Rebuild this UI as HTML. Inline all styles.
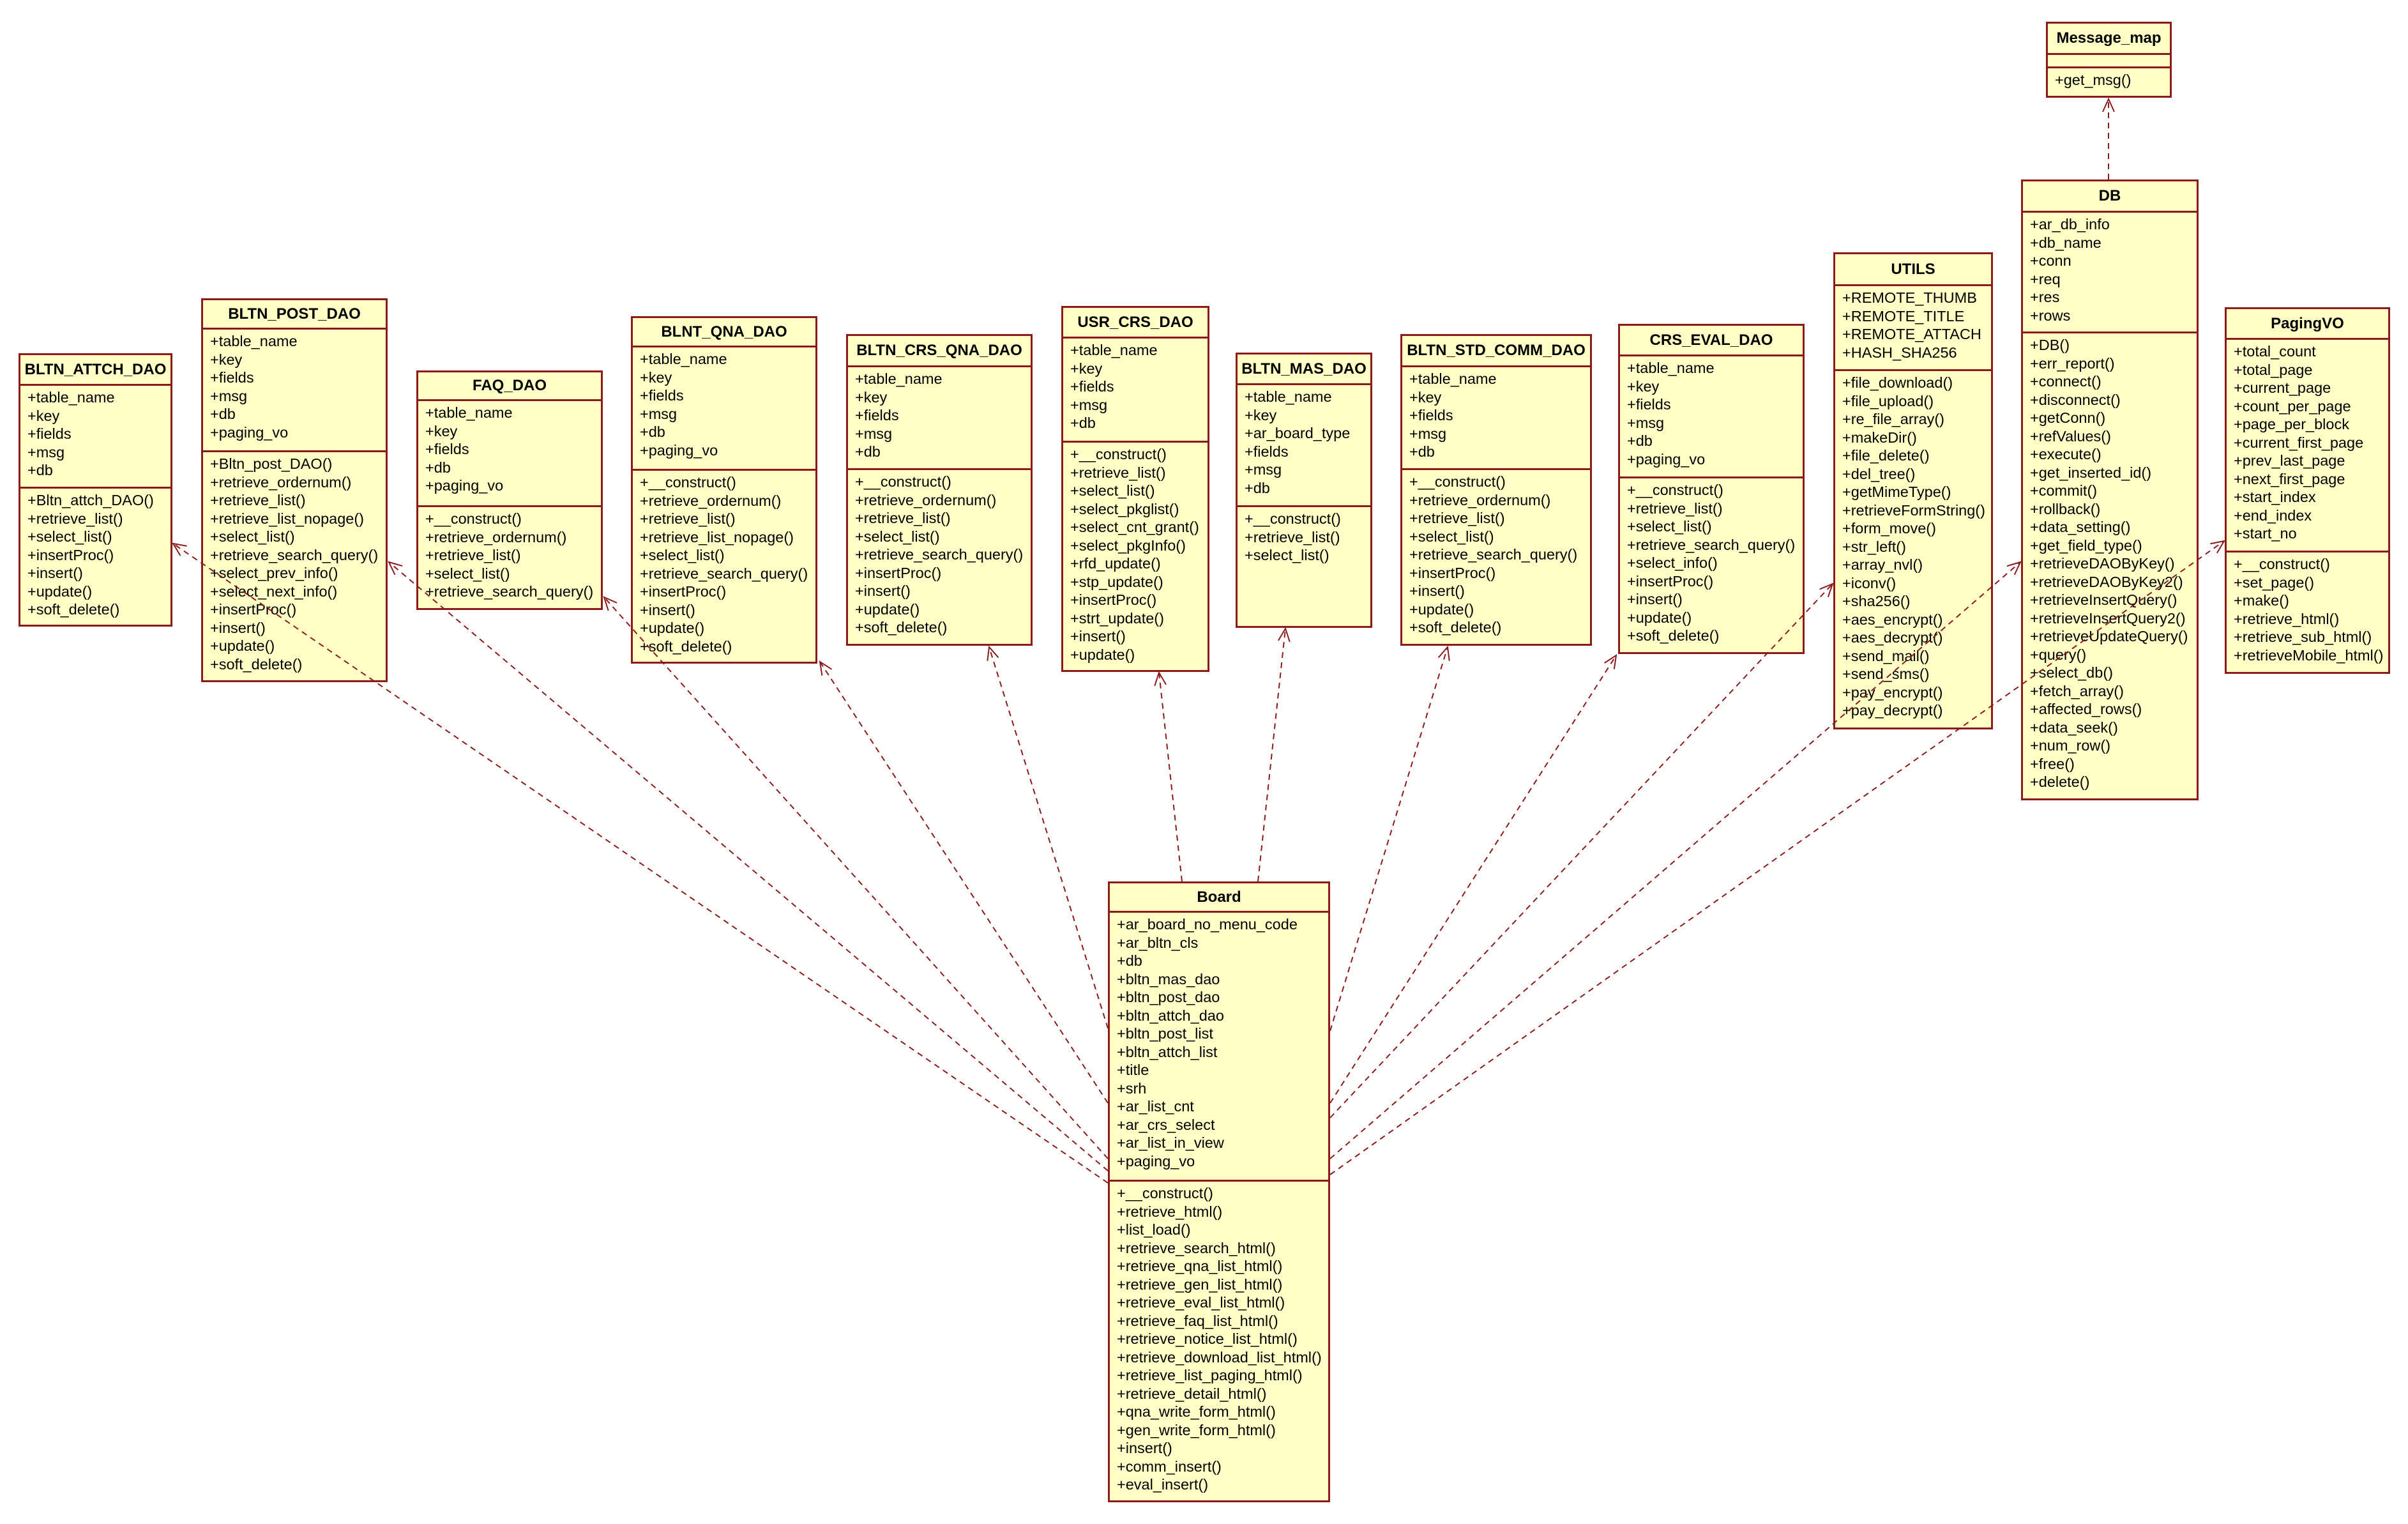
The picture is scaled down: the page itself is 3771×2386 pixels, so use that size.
<!DOCTYPE html>
<html><head><meta charset="utf-8">
<style>
html,body{margin:0;padding:0;background:#fff;}
body{width:3771px;height:2386px;position:relative;overflow:hidden;font-family:"Liberation Sans",Arial,sans-serif;}
.b{position:absolute;background:#ffffc6;border:3px solid #8b1a1a;box-sizing:border-box;color:#000;}
.h{box-sizing:border-box;border-bottom:3px solid #8b1a1a;font-weight:bold;font-size:24px;display:flex;align-items:center;justify-content:center;}
.a{box-sizing:border-box;border-bottom:3px solid #8b1a1a;}
.a,.m{padding:4px 0 0 11px;font-size:23.5px;line-height:28.5px;white-space:pre;}
svg{position:absolute;left:0;top:0;}
</style></head><body>

<div class="b" style="left:29px;top:553px;width:241px;height:428px">
<div class="h" style="height:48px">BLTN_ATTCH_DAO</div>
<div class="a" style="height:161px">+table_name
+key
+fields
+msg
+db</div>
<div class="m">+Bltn_attch_DAO()
+retrieve_list()
+select_list()
+insertProc()
+insert()
+update()
+soft_delete()</div></div>

<div class="b" style="left:315px;top:467px;width:292px;height:601px">
<div class="h" style="height:46px">BLTN_POST_DAO</div>
<div class="a" style="height:192px">+table_name
+key
+fields
+msg
+db
+paging_vo</div>
<div class="m">+Bltn_post_DAO()
+retrieve_ordernum()
+retrieve_list()
+retrieve_list_nopage()
+select_list()
+retrieve_search_query()
+select_prev_info()
+select_next_info()
+insertProc()
+insert()
+update()
+soft_delete()</div></div>

<div class="b" style="left:652px;top:580px;width:292px;height:375px">
<div class="h" style="height:45px">FAQ_DAO</div>
<div class="a" style="height:166px">+table_name
+key
+fields
+db
+paging_vo</div>
<div class="m">+__construct()
+retrieve_ordernum()
+retrieve_list()
+select_list()
+retrieve_search_query()</div></div>

<div class="b" style="left:988px;top:495px;width:292px;height:544px">
<div class="h" style="height:46px">BLNT_QNA_DAO</div>
<div class="a" style="height:193px">+table_name
+key
+fields
+msg
+db
+paging_vo</div>
<div class="m">+__construct()
+retrieve_ordernum()
+retrieve_list()
+retrieve_list_nopage()
+select_list()
+retrieve_search_query()
+insertProc()
+insert()
+update()
+soft_delete()</div></div>

<div class="b" style="left:1325px;top:523px;width:292px;height:488px">
<div class="h" style="height:49px">BLTN_CRS_QNA_DAO</div>
<div class="a" style="height:161px">+table_name
+key
+fields
+msg
+db</div>
<div class="m">+__construct()
+retrieve_ordernum()
+retrieve_list()
+select_list()
+retrieve_search_query()
+insertProc()
+insert()
+update()
+soft_delete()</div></div>

<div class="b" style="left:1662px;top:479px;width:232px;height:573px">
<div class="h" style="height:48px">USR_CRS_DAO</div>
<div class="a" style="height:163px">+table_name
+key
+fields
+msg
+db</div>
<div class="m">+__construct()
+retrieve_list()
+select_list()
+select_pkglist()
+select_cnt_grant()
+select_pkgInfo()
+rfd_update()
+stp_update()
+insertProc()
+strt_update()
+insert()
+update()</div></div>

<div class="b" style="left:1935px;top:552px;width:214px;height:431px">
<div class="h" style="height:48px">BLTN_MAS_DAO</div>
<div class="a" style="height:191px">+table_name
+key
+ar_board_type
+fields
+msg
+db</div>
<div class="m">+__construct()
+retrieve_list()
+select_list()</div></div>

<div class="b" style="left:2193px;top:523px;width:300px;height:488px">
<div class="h" style="height:49px">BLTN_STD_COMM_DAO</div>
<div class="a" style="height:161px">+table_name
+key
+fields
+msg
+db</div>
<div class="m">+__construct()
+retrieve_ordernum()
+retrieve_list()
+select_list()
+retrieve_search_query()
+insertProc()
+insert()
+update()
+soft_delete()</div></div>

<div class="b" style="left:2534px;top:507px;width:292px;height:517px">
<div class="h" style="height:48px">CRS_EVAL_DAO</div>
<div class="a" style="height:191px">+table_name
+key
+fields
+msg
+db
+paging_vo</div>
<div class="m">+__construct()
+retrieve_list()
+select_list()
+retrieve_search_query()
+select_info()
+insertProc()
+insert()
+update()
+soft_delete()</div></div>

<div class="b" style="left:2871px;top:395px;width:250px;height:747px">
<div class="h" style="height:50px">UTILS</div>
<div class="a" style="height:133px">+REMOTE_THUMB
+REMOTE_TITLE
+REMOTE_ATTACH
+HASH_SHA256</div>
<div class="m">+file_download()
+file_upload()
+re_file_array()
+makeDir()
+file_delete()
+del_tree()
+getMimeType()
+retrieveFormString()
+form_move()
+str_left()
+array_nvl()
+iconv()
+sha256()
+aes_encrypt()
+aes_decrypt()
+send_mail()
+send_sms()
+pay_encrypt()
+pay_decrypt()</div></div>

<div class="b" style="left:3165px;top:281px;width:278px;height:972px">
<div class="h" style="height:49px">DB</div>
<div class="a" style="height:189px">+ar_db_info
+db_name
+conn
+req
+res
+rows</div>
<div class="m">+DB()
+err_report()
+connect()
+disconnect()
+getConn()
+refValues()
+execute()
+get_inserted_id()
+commit()
+rollback()
+data_setting()
+get_field_type()
+retrieveDAOByKey()
+retrieveDAOByKey2()
+retrieveInsertQuery()
+retrieveInsertQuery2()
+retrieveUpdateQuery()
+query()
+select_db()
+fetch_array()
+affected_rows()
+data_seek()
+num_row()
+free()
+delete()</div></div>

<div class="b" style="left:3204px;top:34px;width:197px;height:119px">
<div class="h" style="height:49px">Message_map</div>
<div class="a" style="height:21px;padding:0"></div>
<div class="m">+get_msg()</div></div>

<div class="b" style="left:3484px;top:481px;width:259px;height:574px">
<div class="h" style="height:48px">PagingVO</div>
<div class="a" style="height:333px">+total_count
+total_page
+current_page
+count_per_page
+page_per_block
+current_first_page
+prev_last_page
+next_first_page
+start_index
+end_index
+start_no</div>
<div class="m">+__construct()
+set_page()
+make()
+retrieve_html()
+retrieve_sub_html()
+retrieveMobile_html()</div></div>

<div class="b" style="left:1735px;top:1380px;width:348px;height:972px">
<div class="h" style="height:46px">Board</div>
<div class="a" style="height:421px">+ar_board_no_menu_code
+ar_bltn_cls
+db
+bltn_mas_dao
+bltn_post_dao
+bltn_attch_dao
+bltn_post_list
+bltn_attch_list
+title
+srh
+ar_list_cnt
+ar_crs_select
+ar_list_in_view
+paging_vo</div>
<div class="m">+__construct()
+retrieve_html()
+list_load()
+retrieve_search_html()
+retrieve_qna_list_html()
+retrieve_gen_list_html()
+retrieve_eval_list_html()
+retrieve_faq_list_html()
+retrieve_notice_list_html()
+retrieve_download_list_html()
+retrieve_list_paging_html()
+retrieve_detail_html()
+qna_write_form_html()
+gen_write_form_html()
+insert()
+comm_insert()
+eval_insert()</div></div>

<svg width="3771" height="2386" viewBox="0 0 3771 2386">
<defs>
<marker id="ar" markerUnits="userSpaceOnUse" markerWidth="30" markerHeight="30" refX="22" refY="11" orient="auto">
<path d="M2,2 L22,11 L2,20" fill="none" stroke="#8b1a1a" stroke-width="2"/>
</marker>
</defs>
<g fill="none" stroke="#8b1a1a" stroke-width="2" stroke-dasharray="9,7" marker-end="url(#ar)">
<line x1="1735" y1="1852" x2="271" y2="851"/>
<line x1="1735" y1="1833" x2="609" y2="880"/>
<line x1="1735" y1="1814" x2="946" y2="935"/>
<line x1="1735" y1="1727" x2="1284" y2="1036"/>
<line x1="1735" y1="1610" x2="1549" y2="1013"/>
<line x1="1851" y1="1380" x2="1815" y2="1053"/>
<line x1="1970" y1="1380" x2="2013" y2="984"/>
<line x1="2083" y1="1614" x2="2267" y2="1013"/>
<line x1="2083" y1="1727" x2="2531" y2="1026"/>
<line x1="2083" y1="1750" x2="2870" y2="914"/>
<line x1="2083" y1="1814" x2="3164" y2="880"/>
<line x1="2083" y1="1839" x2="3483" y2="847"/>
<line x1="3302" y1="281" x2="3302" y2="155"/>
</g>
</svg>
</body></html>
